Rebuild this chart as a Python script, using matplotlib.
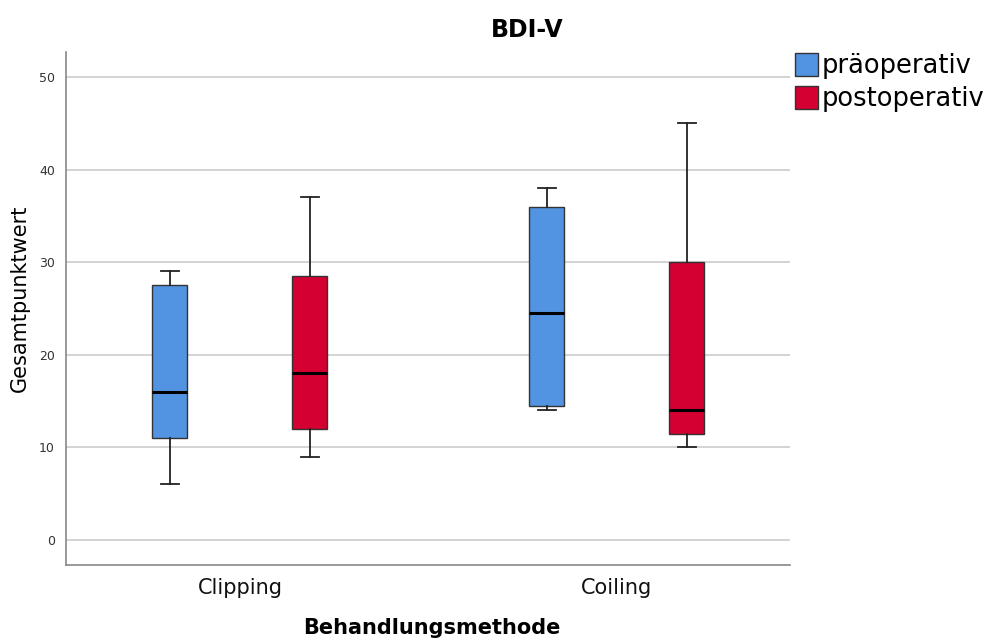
import matplotlib
matplotlib.use("Agg")
import matplotlib.pyplot as plt
from matplotlib.patches import Patch

categories = ["Clipping", "Coiling"]
groups = ["präoperativ", "postoperativ"]
colors = ["#5294E2", "#D50032"]
# [whislo, q1, med, q3, whishi] per group per category
pre_stats = [[6, 11, 16, 27.5, 29], [14, 14.5, 24.5, 36, 38]]
post_stats = [[9, 12, 18, 28.5, 37], [10, 11.5, 14, 30, 45]]
yticks = [0, 10, 20, 30, 40, 50]

plt.rcParams['font.family'] = ['DejaVu Sans']
fig = plt.figure(figsize=(9.84, 6.39), dpi=100)
ax = fig.add_axes([66/984, 1-565/639, (790-66)/984, (565-52)/639])

offset = 0.1857
width = 0.0928
for gi, (stats_all, col) in enumerate(zip([pre_stats, post_stats], colors)):
    stats = []
    for ci, s in enumerate(stats_all):
        stats.append(dict(whislo=s[0], q1=s[1], med=s[2], q3=s[3], whishi=s[4], fliers=[]))
    pos = [ci + (-offset if gi == 0 else offset) for ci in range(len(categories))]
    ax.bxp(stats, positions=pos, widths=width, patch_artist=True, showfliers=False,
           boxprops=dict(facecolor=col, edgecolor="#333333", linewidth=1.0),
           medianprops=dict(color="black", linewidth=2.2),
           whiskerprops=dict(color="#222222", linewidth=1.3),
           capprops=dict(color="#222222", linewidth=1.3),
           capwidths=width * 0.5)

ax.set_xlim(-0.4615, 1.459)
ax.set_ylim(-2.7, 52.7)
ax.set_yticks(yticks)
ax.set_yticklabels([str(t) for t in yticks], fontsize=9, color="#333333")
ax.set_xticks([0, 1])
ax.set_xticklabels(categories, fontsize=15, color="#111111")
ax.tick_params(axis='x', length=0, pad=9)
ax.tick_params(axis='y', length=0, pad=8)
ax.yaxis.grid(True, color="#cccccc", linewidth=1.2)
ax.set_axisbelow(True)
for sp in ["top", "right"]:
    ax.spines[sp].set_visible(False)
for sp in ["left", "bottom"]:
    ax.spines[sp].set_color("#888888")
    ax.spines[sp].set_linewidth(1.2)

fig.text(527/984, 1-37/639, "BDI-V", fontsize=17, fontweight="bold",
         ha="center", va="baseline")
fig.text(20/984, 1-298/639, "Gesamtpunktwert", fontsize=15, rotation=90,
         ha="center", va="center")
fig.text(432/984, 1-634/639, "Behandlungsmethode", fontsize=15, fontweight="bold",
         ha="center", va="baseline")

handles = [Patch(facecolor=c, edgecolor="#333333", label=g) for c, g in zip(colors, groups)]
fig.legend(handles=handles, loc="upper left", bbox_to_anchor=(795/984, 1-53/639),
           frameon=False, fontsize=18.5, handlelength=0.9, handleheight=1.0,
           handletextpad=0.12, labelspacing=0.25, borderaxespad=0, borderpad=0)

fig.savefig("out.png", dpi=100)
